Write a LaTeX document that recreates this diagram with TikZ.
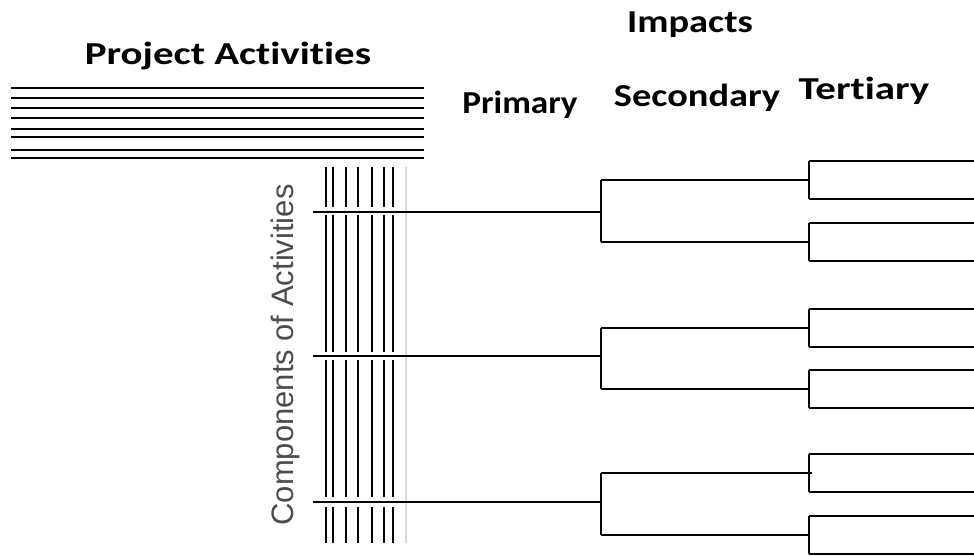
\documentclass[tikz,border=0pt]{standalone}
\usepackage{fontspec}
\usepackage{graphicx}
\setmainfont{Carlito}[Ligatures=CommonOff]
\newfontfamily\arialfont{Liberation Sans}

\tikzset{
  heading/.style={font=\bfseries\fontsize{32}{38}\selectfont, anchor=base, inner sep=0pt},
  bar/.style={line width=1.6pt},
  comp/.style={line width=1.3pt},
  branch/.style={line width=1.5pt},
  twig/.style={line width=2pt},
}

\begin{document}
\begin{tikzpicture}[x=1pt,y=-1pt]
        \useasboundingbox (0,0) rectangle (974,556);
        % headings
        \node[heading] (projact) at (228,65) {\scalebox{1.28}[1]{Project Activities}};
        \node[heading] (impacts) at (690,33) {\scalebox{1.2}[1]{Impacts}};
        \node[heading] (primary) at (520,114) {\scalebox{1.1}[1]{Primary}};
        \node[heading] (secondary) at (697,107) {\scalebox{1.2}[1]{Secondary}};
        \node[heading] (tertiary) at (864,100) {\scalebox{1.28}[1]{Tertiary}};
        \node[rotate=90, anchor=base, inner sep=0pt, text=black!70,
              font=\arialfont\fontsize{31}{36}\selectfont] (components) at (293,355) {Components of Activities};

        % list of project activities
        \foreach \y in {88,98,108,118,129,137,150,158}
            \draw[bar] (11,\y) -- (424,\y);

        % components
        \foreach \x in {326,333,346,358,372,384,393} {
            \draw[comp] (\x,167) -- (\x,207);
            \draw[comp] (\x,215) -- (\x,352);
            \draw[comp] (\x,360) -- (\x,497);
            \draw[comp] (\x,507) -- (\x,543);
        }
        \draw[comp, black!15] (406,167) -- (406,543);

        % primary -> secondary -> tertiary
        \foreach \i/\m/\t/\b in {1/212/180/242, 2/356/328/389, 3/502/473/535} {
            \coordinate (p\i) at (313,\m);
            \coordinate (s\i) at (601,\m);
            \coordinate (st\i) at (601,\t);
            \coordinate (sb\i) at (601,\b);
            \coordinate (tt\i) at (809,\t);
            \coordinate (tb\i) at (809,\b);
            \draw[branch] (p\i) -- (s\i);
            \draw[branch] (st\i) -- (sb\i);
            \draw[branch] (st\i) -- (tt\i);
            \draw[branch] (sb\i) -- (tb\i);
            \draw[twig, line width=2.5pt] ([yshift=-19pt]tt\i) -- ([yshift=19pt]tt\i);
            \draw[twig, line width=2.5pt] ([yshift=-19pt]tb\i) -- ([yshift=19pt]tb\i);
            \draw[twig] ([yshift=-19pt]tt\i) -- ++(165,0);
            \draw[twig] ([yshift=19pt]tt\i) -- ++(165,0);
            \draw[twig] ([yshift=-19pt]tb\i) -- ++(165,0);
            \draw[twig] ([yshift=19pt]tb\i) -- ++(165,0);
        }
        \draw[line width=2.6pt] (st3) -- (708,473);
        \draw[branch] (tt3) -- ++(3,0);
\end{tikzpicture}
\end{document}
